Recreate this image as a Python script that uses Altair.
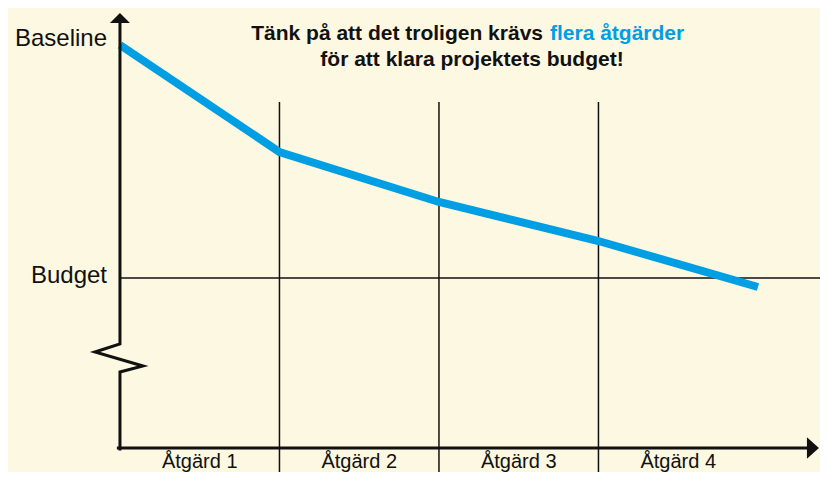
import altair as alt
import pandas as pd

# ---- data ----
steps = [0, 1, 2, 3, 4]                 # start + after each measure
cost = [403, 296, 246, 207, 161]        # cost level (arbitrary units)
baseline_value = 403
budget_value = 170
level_labels = ["Baseline", "Budget"]
measure_labels = ["Åtgärd 1", "Åtgärd 2", "Åtgärd 3", "Åtgärd 4"]
measure_centers = [0.5, 1.5, 2.5, 3.5]
divider_steps = [1, 2, 3]
title_line1_black = "Tänk på att det troligen krävs"
title_line1_blue = "flera åtgärder"
title_line2 = "för att klara projektets budget!"

# axis decoration (broken y axis with zigzag), in data units
y_axis_x = [0, 0, 0.144, -0.157, 0, 0]
y_axis_v = [-1, 76, 82, 96, 104, 425]
x_axis_end = 4.307
y_axis_end = 425

BG = "#FDF8E1"
BLUE = "#009EE2"
INK = "#111111"
FONT = "Liberation Sans"

xs = alt.Scale(domain=[-0.702, 4.389], nice=False, zero=False)
ys = alt.Scale(domain=[-24, 440], nice=False, zero=False)


def X(f):
    return alt.X(f, type="quantitative", scale=xs, axis=None)


def Y(f):
    return alt.Y(f, type="quantitative", scale=ys, axis=None)


line_df = pd.DataFrame({"step": steps, "cost": cost})
div_df = pd.DataFrame({"d": divider_steps, "top": [346] * 3, "bot": [-24] * 3})
budget_df = pd.DataFrame({"x0": [0], "x1": [4.389], "v": [budget_value]})
yaxis_df = pd.DataFrame({"ax": y_axis_x, "av": y_axis_v, "o": list(range(len(y_axis_x)))})
xaxis_df = pd.DataFrame({"ax": [-0.01, x_axis_end], "av": [0, 0]})
lab_df = pd.DataFrame({"c": measure_centers, "t": measure_labels})

dividers = alt.Chart(div_df).mark_rule(color=INK, strokeWidth=1.5).encode(
    x=X("d"), y=Y("top"), y2="bot"
)
budget_rule = alt.Chart(budget_df).mark_rule(color=INK, strokeWidth=1.5).encode(
    x=X("x0"), x2="x1", y=Y("v")
)
cost_line = alt.Chart(line_df).mark_line(
    color=BLUE, strokeWidth=8, strokeCap="butt", strokeJoin="miter"
).encode(x=X("step"), y=Y("cost"))

y_axis = alt.Chart(yaxis_df).mark_line(
    color=INK, strokeWidth=3, strokeJoin="miter", strokeCap="square"
).encode(x=X("ax"), y=Y("av"), order="o:Q")
x_axis = alt.Chart(xaxis_df).mark_line(
    color=INK, strokeWidth=3, strokeCap="square"
).encode(x=X("ax"), y=Y("av"))

y_arrow = alt.Chart(pd.DataFrame({"ax": [0], "av": [y_axis_end]})).mark_point(
    shape="M-1,0 L0,-1 L1,0 Z", size=400, filled=True, color=INK, opacity=1, strokeWidth=0
).encode(x=X("ax"), y=Y("av"))
x_arrow = alt.Chart(pd.DataFrame({"ax": [x_axis_end], "av": [0]})).mark_point(
    shape="M0,-0.9 L1,0 L0,0.9 Z", size=576, filled=True, color=INK, opacity=1, strokeWidth=0
).encode(x=X("ax"), y=Y("av"))

baseline_lab = alt.Chart(pd.DataFrame({"v": [baseline_value], "t": [level_labels[0]]})).mark_text(
    align="right", baseline="alphabetic", font=FONT, fontSize=24, color=INK, dy=1
).encode(x=alt.value(99), y=Y("v"), text="t:N")
budget_lab = alt.Chart(pd.DataFrame({"v": [budget_value], "t": [level_labels[1]]})).mark_text(
    align="right", baseline="alphabetic", font=FONT, fontSize=24, color=INK, dy=5
).encode(x=alt.value(99), y=Y("v"), text="t:N")

measure_lab = alt.Chart(lab_df).mark_text(
    align="center", baseline="alphabetic", font=FONT, fontSize=20, color=INK
).encode(x=X("c"), y=alt.value(460), text="t:N")

t1a = alt.Chart(pd.DataFrame({"t": [title_line1_black]})).mark_text(
    align="right", baseline="alphabetic", font=FONT, fontSize=21, fontWeight="bold", color=INK
).encode(x=alt.value(535), y=alt.value(32), text="t:N")
t1b = alt.Chart(pd.DataFrame({"t": [title_line1_blue]})).mark_text(
    align="left", baseline="alphabetic", font=FONT, fontSize=21, fontWeight="bold", color=BLUE
).encode(x=alt.value(542), y=alt.value(32), text="t:N")
t2 = alt.Chart(pd.DataFrame({"t": [title_line2]})).mark_text(
    align="center", baseline="alphabetic", font=FONT, fontSize=21, fontWeight="bold", color=INK
).encode(x=alt.value(464), y=alt.value(58), text="t:N")

chart = alt.layer(
    dividers, budget_rule, cost_line, y_axis, x_axis, y_arrow, x_arrow,
    baseline_lab, budget_lab, measure_lab, t1a, t1b, t2
).properties(
    width=812, height=464, padding=0, autosize=alt.AutoSizeParams(type="none"),
    background=BG
).configure_view(stroke=None)

chart.save("out.html", embed_options={"renderer": "svg", "actions": False})
